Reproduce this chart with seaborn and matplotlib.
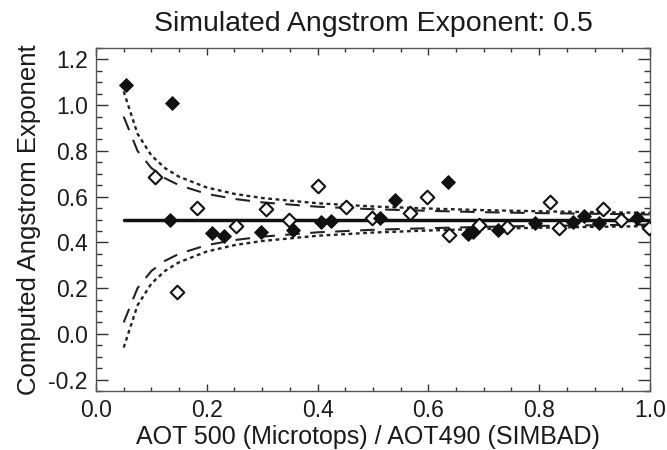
import numpy as np
import pandas as pd
import matplotlib
matplotlib.use("Agg")
import matplotlib.pyplot as plt
import seaborn as sns
from matplotlib.ticker import MultipleLocator

# ---- data ----
filled_x = [0.054, 0.138, 0.134, 0.210, 0.231, 0.298, 0.356, 0.407, 0.425, 0.513,
            0.539, 0.635, 0.672, 0.680, 0.726, 0.793, 0.861, 0.881, 0.908, 0.976]
filled_y = [1.09, 1.01, 0.50, 0.440, 0.430, 0.444, 0.455, 0.490, 0.492, 0.508,
            0.586, 0.665, 0.438, 0.445, 0.455, 0.484, 0.487, 0.515, 0.484, 0.507]

open_x = [0.106, 0.146, 0.183, 0.252, 0.306, 0.349, 0.401, 0.452, 0.499, 0.566,
          0.597, 0.638, 0.692, 0.742, 0.820, 0.836, 0.916, 0.947, 0.999]
open_y = [0.685, 0.182, 0.551, 0.470, 0.546, 0.500, 0.645, 0.555, 0.507, 0.529,
          0.600, 0.432, 0.474, 0.469, 0.577, 0.462, 0.547, 0.500, 0.464]

curve_x = [0.05, 0.075, 0.10, 0.125, 0.15, 0.20, 0.25, 0.30, 0.40, 0.50, 0.60, 0.70, 0.80, 0.90, 1.00]
dotted_upper = [1.06, 0.875, 0.78, 0.724, 0.687, 0.640, 0.612, 0.594, 0.571, 0.557, 0.548, 0.541, 0.536, 0.532, 0.529]
dotted_lower = [-0.06, 0.125, 0.22, 0.276, 0.313, 0.360, 0.388, 0.406, 0.429, 0.443, 0.452, 0.459, 0.464, 0.468, 0.471]
dashed_upper = [0.95, 0.80, 0.725, 0.680, 0.650, 0.612, 0.590, 0.575, 0.556, 0.545, 0.538, 0.532, 0.528, 0.525, 0.522]
dashed_lower = [0.05, 0.20, 0.275, 0.320, 0.350, 0.388, 0.410, 0.425, 0.444, 0.455, 0.462, 0.468, 0.472, 0.475, 0.478]

ref_x = [0.05, 1.0]
ref_y = [0.5, 0.5]

title = "Simulated Angstrom Exponent: 0.5"
xlabel = "AOT 500 (Microtops) / AOT490 (SIMBAD)"
ylabel = "Computed Angstrom Exponent"

# ---- style ----
sns.set_style("ticks")
plt.rcParams['font.family'] = ['Liberation Sans', 'DejaVu Sans']
plt.rcParams['text.color'] = '#1a1a1a'
plt.rcParams['axes.labelcolor'] = '#1a1a1a'

fig = plt.figure(figsize=(6.67, 4.5), dpi=100)
ax = fig.add_axes([0.1439, 0.1311, 0.8306, 0.7622])

df_c = pd.DataFrame({"x": curve_x, "du": dotted_upper, "dl": dotted_lower,
                     "lu": dashed_upper, "ll": dashed_lower})

for col in ["du", "dl"]:
    sns.lineplot(data=df_c, x="x", y=col, ax=ax, color="#222222", lw=1.7,
                 linestyle=(0, (1.6, 1.5)))
for col in ["lu", "ll"]:
    sns.lineplot(data=df_c, x="x", y=col, ax=ax, color="#222222", lw=1.5,
                 linestyle=(0, (7, 5)))

sns.lineplot(x=ref_x, y=ref_y, ax=ax, color="#111111", lw=2.5)

sns.scatterplot(x=open_x, y=open_y, ax=ax, marker="D", s=48,
                facecolor="white", edgecolor="#111111", linewidth=1.5, zorder=5)
sns.scatterplot(x=filled_x, y=filled_y, ax=ax, marker="D", s=48,
                color="#111111", edgecolor="#111111", linewidth=0.8, zorder=6)

ax.set_xlim(0, 1.0)
ax.set_ylim(-0.25, 1.25)
ax.xaxis.set_major_locator(MultipleLocator(0.2))
ax.xaxis.set_minor_locator(MultipleLocator(0.05))
ax.yaxis.set_major_locator(MultipleLocator(0.2))
ax.yaxis.set_minor_locator(MultipleLocator(0.05))
ax.set_xticklabels([f"{v:.1f}" for v in ax.get_xticks()])
ax.set_yticklabels([f"{v:.1f}" for v in ax.get_yticks()])

ax.tick_params(axis="both", which="both", direction="in", top=True, right=True,
               colors="#333333", labelcolor="#1a1a1a", labelsize=16.5, width=1.0)
ax.tick_params(axis="x", which="major", length=5, pad=6)
ax.tick_params(axis="x", which="minor", length=3)
ax.tick_params(axis="y", which="major", length=8.5, pad=6)
ax.tick_params(axis="y", which="minor", length=4)

for sp in ax.spines.values():
    sp.set_visible(True)
    sp.set_color("#555555")
    sp.set_linewidth(1.0)

ax.set_title(title, fontsize=20.5, pad=12)
ax.set_xlabel(xlabel, fontsize=18)
ax.xaxis.set_label_coords(0.49, -0.133)
ax.xaxis.label.set_va("center")
ax.set_ylabel(ylabel, fontsize=18.5, labelpad=5)
if ax.get_legend():
    ax.get_legend().remove()

fig.savefig("out.png", dpi=100)
